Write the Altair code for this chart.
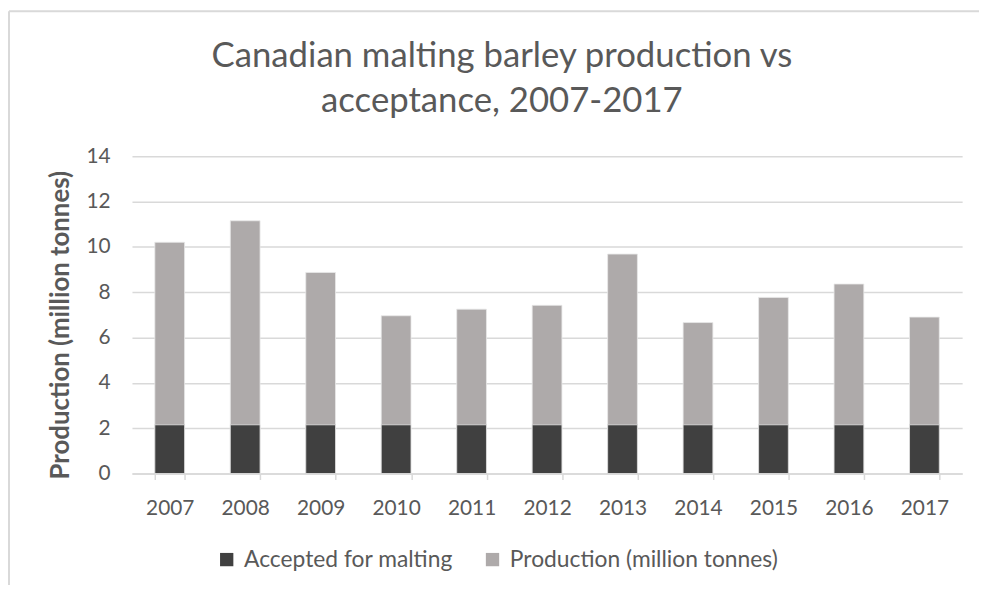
import altair as alt
import pandas as pd

years = ["2007", "2008", "2009", "2010", "2011", "2012", "2013", "2014", "2015", "2016", "2017"]
production = [10.2, 11.15, 8.87, 6.96, 7.25, 7.42, 9.68, 6.66, 7.77, 8.36, 6.90]
accepted = [2.15] * 11
series = ["Accepted for malting", "Production (million tonnes)"]
colors = ["#404040", "#AEAAAA"]
title_lines = ["Canadian malting barley production vs", "acceptance, 2007-2017"]

rows = []
for y, p in zip(years, production):
    rows.append({"Year": y, "Series": series[1], "Value": p, "ord": 0})
for y, a in zip(years, accepted):
    rows.append({"Year": y, "Series": series[0], "Value": a, "ord": 1})
df = pd.DataFrame(rows)

FONT = "Lato"
TXT = "#595959"
GRID = "#D9D9D9"

bars = alt.Chart(df).mark_bar(size=30, stroke="#E8E8E8", strokeWidth=0.8).encode(
    x=alt.X("Year:N", sort=years, title=None,
            scale=alt.Scale(paddingInner=0.6, paddingOuter=0.3),
            axis=alt.Axis(labelAngle=0, labelFontSize=21, labelColor=TXT, labelFont=FONT,
                          domainColor=GRID, domainWidth=1.5, tickColor=GRID, tickWidth=1.5,
                          tickSize=6, tickBand="extent", labelPadding=18, grid=False)),
    y=alt.Y("Value:Q", stack=None, scale=alt.Scale(domain=[0, 14]),
            title="Production (million tonnes)",
            axis=alt.Axis(values=[0, 2, 4, 6, 8, 10, 12, 14], labelFontSize=21, labelColor=TXT,
                          labelFont=FONT, domain=False, ticks=False, labelPadding=22,
                          gridColor=GRID, gridWidth=1.5,
                          titleFont=FONT, titleFontSize=26, titleFontWeight="bold",
                          titleColor=TXT, titleX=-72, titleY=170, titleAngle=-90,
                          titleAlign="center", titleBaseline="middle")),
    color=alt.Color("Series:N", scale=alt.Scale(domain=series, range=colors),
                    legend=alt.Legend(title=None, orient="none", direction="horizontal",
                                      legendX=84, legendY=395, labelFont=FONT,
                                      labelFontSize=23, labelColor=TXT, symbolType="square",
                                      symbolSize=180, symbolStrokeWidth=0, labelOffset=6,
                                      columnPadding=28, labelLimit=0)),
    order=alt.Order("ord:Q"),
)

title1 = alt.Chart().mark_text(font=FONT, fontSize=35, color=TXT, align="center",
                               baseline="alphabetic").encode(
    x=alt.value(373), y=alt.value(-90), text=alt.value(title_lines[0]))
title2 = alt.Chart().mark_text(font=FONT, fontSize=35, color=TXT, align="center",
                               baseline="alphabetic").encode(
    x=alt.value(373), y=alt.value(-45), text=alt.value(title_lines[1]))

border_left = alt.Chart().mark_rule(color=GRID, strokeWidth=2).encode(
    x=alt.value(-124), y=alt.value(-146), y2=alt.value(440))
border_top = alt.Chart().mark_rule(color=GRID, strokeWidth=2).encode(
    x=alt.value(-124), x2=alt.value(860), y=alt.value(-146))

chart = alt.layer(bars, title1, title2, border_left, border_top).properties(
    width=837, height=320,
    autosize=alt.AutoSizeParams(type="none"),
    padding={"left": 125, "top": 147, "right": 17, "bottom": 110},
).configure_view(stroke=None)

chart.save("out.html", embed_options={"renderer": "svg", "actions": False})
